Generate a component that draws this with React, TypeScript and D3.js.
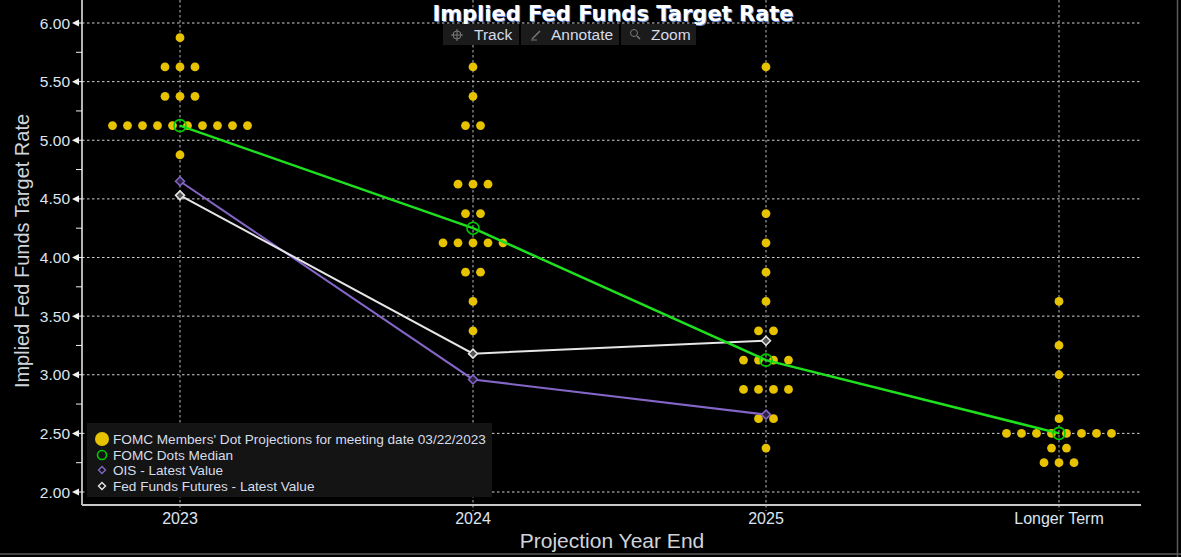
import { useEffect } from "react";
import { scaleLinear, scalePoint, line, range } from "d3";

// projection categories
const categories = ["2023", "2024", "2025", "Longer Term"];

// individual FOMC participant projections (March 2023 SEP)
const dots2023 = [5.875, 5.625, 5.625, 5.625, 5.375, 5.375, 5.375, 5.125, 5.125, 5.125, 5.125, 5.125, 5.125, 5.125, 5.125, 5.125, 5.125, 4.875];
const dots2024 = [5.625, 5.375, 5.125, 5.125, 4.625, 4.625, 4.625, 4.375, 4.375, 4.125, 4.125, 4.125, 4.125, 4.125, 3.875, 3.875, 3.625, 3.375];
const dots2025 = [5.625, 4.375, 4.125, 3.875, 3.625, 3.375, 3.375, 3.125, 3.125, 3.125, 3.125, 2.875, 2.875, 2.875, 2.875, 2.625, 2.625, 2.375];
const dotsLonger = [3.625, 3.25, 3.0, 2.625, 2.5, 2.5, 2.5, 2.5, 2.5, 2.5, 2.5, 2.5, 2.375, 2.375, 2.25, 2.25, 2.25];
const dotsByCategory = [dots2023, dots2024, dots2025, dotsLonger];

const medianValues = [5.125, 4.25, 3.125, 2.5];
const oisValues = [4.65, 2.96, 2.66];
const futuresValues = [4.53, 3.18, 3.29];

const yTicks = [2, 2.5, 3, 3.5, 4, 4.5, 5, 5.5, 6];
const yMinorTicks = [2.25, 2.75, 3.25, 3.75, 4.25, 4.75, 5.25, 5.75];

const legendItems = [
  "FOMC Members' Dot Projections for meeting date 03/22/2023",
  "FOMC Dots Median",
  "OIS - Latest Value",
  "Fed Funds Futures - Latest Value",
];

const W = 1181;
const H = 557;
const plot = { left: 82, right: 1141, top: 0, bottom: 505 };
const DOT_STEP = 15;

const GOLD = "#e6c200";
const GREEN = "#1fe01f";
const PURPLE = "#8466c8";
const WHITE = "#e6e6e6";
const FONT = "'Liberation Sans', Arial, sans-serif";
const TITLE_FONT = "'DejaVu Sans', Verdana, sans-serif";

const diamond = (x: number, y: number, r: number) =>
  `M${x},${y - r}L${x + r},${y}L${x},${y + r}L${x - r},${y}Z`;

export default function App() {
  useEffect(() => {
    document.body.style.margin = "0";
    document.body.style.background = "#000";
  }, []);

  const x = scalePoint<string>().domain(categories).range([180, 1059]);
  const y = scaleLinear().domain([2, 6]).range([492, 23]);

  const lineGen = line<number>()
    .x((_, i) => x(categories[i]) as number)
    .y((d) => y(d));

  // spread equal values horizontally around the category position
  const dotMarks = dotsByCategory.flatMap((vals, ci) => {
    const cx = x(categories[ci]) as number;
    const groups = new Map<number, number>();
    vals.forEach((v) => groups.set(v, (groups.get(v) || 0) + 1));
    const out: { cx: number; cy: number }[] = [];
    groups.forEach((n, v) => {
      range(n).forEach((i) => {
        out.push({ cx: cx + (i - (n - 1) / 2) * DOT_STEP, cy: y(v) });
      });
    });
    return out;
  });

  return (
    <svg width={W} height={H} style={{ position: "absolute", left: 0, top: 0, background: "#000" }}>
      <rect x={0} y={0} width={W} height={H} fill="#000" />

      {/* horizontal grid */}
      {yTicks.map((t) => (
        <line key={"h" + t} x1={plot.left} x2={plot.right} y1={y(t)} y2={y(t)}
          stroke="#d0d0d0" strokeWidth={1} strokeDasharray="2.5,2.5" />
      ))}
      {/* vertical grid */}
      {categories.map((c) => (
        <line key={"v" + c} x1={x(c)} x2={x(c)} y1={plot.top} y2={plot.bottom + 6}
          stroke="#b8b8b8" strokeWidth={1} strokeDasharray="2.5,2.5" />
      ))}

      {/* y axis */}
      <line x1={plot.left} x2={plot.left} y1={0} y2={plot.bottom} stroke="#f0f0f0" strokeWidth={1.5} />
      {yTicks.map((t) => (
        <g key={"yt" + t}>
          <path d={`M${plot.left - 10},${y(t)}L${plot.left - 3},${y(t) - 3.5}L${plot.left - 3},${y(t) + 3.5}Z`} fill="#f0f0f0" />
          <line x1={plot.left - 4} x2={plot.left} y1={y(t)} y2={y(t)} stroke="#f0f0f0" />
          <text x={plot.left - 12} y={y(t) + 5.5} textAnchor="end" fill="#dde4f0" fontSize={15.5} fontFamily={FONT}>
            {t.toFixed(2)}
          </text>
        </g>
      ))}
      {yMinorTicks.map((t) => (
        <line key={"ym" + t} x1={plot.left - 6} x2={plot.left} y1={y(t)} y2={y(t)} stroke="#f0f0f0" />
      ))}

      {/* x axis */}
      <line x1={plot.left} x2={plot.right} y1={plot.bottom} y2={plot.bottom} stroke="#c8c8c8" strokeWidth={2} />
      {categories.map((c) => (
        <text key={"xl" + c} x={x(c)} y={plot.bottom + 19} textAnchor="middle" fill="#dde4f0" fontSize={16} fontFamily={FONT}>
          {c}
        </text>
      ))}

      {/* axis titles */}
      <text x={612} y={548} textAnchor="middle" fill="#cfd4dc" fontSize={21} fontFamily={FONT}>
        Projection Year End
      </text>
      <text transform={`translate(29,251) rotate(-90)`} textAnchor="middle" fill="#cfd4dc" fontSize={20} fontFamily={FONT}>
        Implied Fed Funds Target Rate
      </text>

      {/* title */}
      <text x={613} y={21} textAnchor="middle" fill="#6a8fd8" fontSize={21} fontWeight="bold" fontFamily={TITLE_FONT} dx={1} dy={1}>
        Implied Fed Funds Target Rate
      </text>
      <text x={613} y={21} textAnchor="middle" fill="#ffffff" fontSize={21} fontWeight="bold" fontFamily={TITLE_FONT}>
        Implied Fed Funds Target Rate
      </text>

      {/* toolbar */}
      <g fontFamily={FONT} fontSize={15.5} fill="#d6dcea">
        <rect x={443} y={24} width={76} height={21} fill="#1b1b1b" />
        <rect x={521} y={24} width={98} height={21} fill="#1b1b1b" />
        <rect x={621} y={24} width={75} height={21} fill="#1b1b1b" />
        <g stroke="#7a7a7a" strokeWidth={1} fill="none">
          <circle cx={457} cy={35} r={4} />
          <line x1={451} x2={463} y1={35} y2={35} />
          <line x1={457} x2={457} y1={29} y2={41} />
          <line x1={532} x2={540} y1={39} y2={31} strokeWidth={1.5} />
          <line x1={531} x2={537} y1={40} y2={40} />
          <circle cx={634} cy={33} r={3.5} />
          <line x1={637} x2={640} y1={36} y2={39} strokeWidth={1.5} />
        </g>
        <text x={474} y={40}>Track</text>
        <text x={551} y={40}>Annotate</text>
        <text x={651} y={40}>Zoom</text>
      </g>

      {/* FOMC dots */}
      {dotMarks.map((d, i) => (
        <circle key={"d" + i} cx={d.cx} cy={d.cy} r={4.4} fill={GOLD} />
      ))}

      {/* series lines */}
      <path d={lineGen(oisValues) || ""} fill="none" stroke={PURPLE} strokeWidth={2} />
      <path d={lineGen(futuresValues) || ""} fill="none" stroke={WHITE} strokeWidth={2} />
      <path d={lineGen(medianValues) || ""} fill="none" stroke={GREEN} strokeWidth={2.5} />

      {oisValues.map((v, i) => (
        <path key={"o" + i} d={diamond(x(categories[i]) as number, y(v), 4.5)} fill="#2a2040" stroke={PURPLE} strokeWidth={1.5} />
      ))}
      {futuresValues.map((v, i) => (
        <path key={"f" + i} d={diamond(x(categories[i]) as number, y(v), 4.5)} fill="#555" stroke={WHITE} strokeWidth={1.5} />
      ))}
      {medianValues.map((v, i) => (
        <circle key={"m" + i} cx={x(categories[i]) as number} cy={y(v)} r={6} fill="none" stroke="#00cc00" strokeWidth={1.6} />
      ))}

      {/* legend */}
      <g fontFamily={FONT} fontSize={13.6} fill="#d6dcea">
        <rect x={87} y={423} width={405} height={74} fill="#141414" />
        <circle cx={102} cy={439} r={7} fill={GOLD} />
        <circle cx={102} cy={455} r={4.5} fill="none" stroke="#00cc00" strokeWidth={1.6} />
        <path d={diamond(102, 470, 3.5)} fill="none" stroke={PURPLE} strokeWidth={1.4} />
        <path d={diamond(102, 486, 3.5)} fill="none" stroke={WHITE} strokeWidth={1.4} />
        {legendItems.map((t, i) => (
          <text key={"l" + i} x={113} y={444 + i * 15.7}>{t}</text>
        ))}
      </g>

      {/* frame */}
      <line x1={1177.5} x2={1177.5} y1={0} y2={H} stroke="#5a5a5a" strokeWidth={1.5} />
      <line x1={0} x2={W} y1={554} y2={554} stroke="#5a5a5a" strokeWidth={1.5} />
    </svg>
  );
}
